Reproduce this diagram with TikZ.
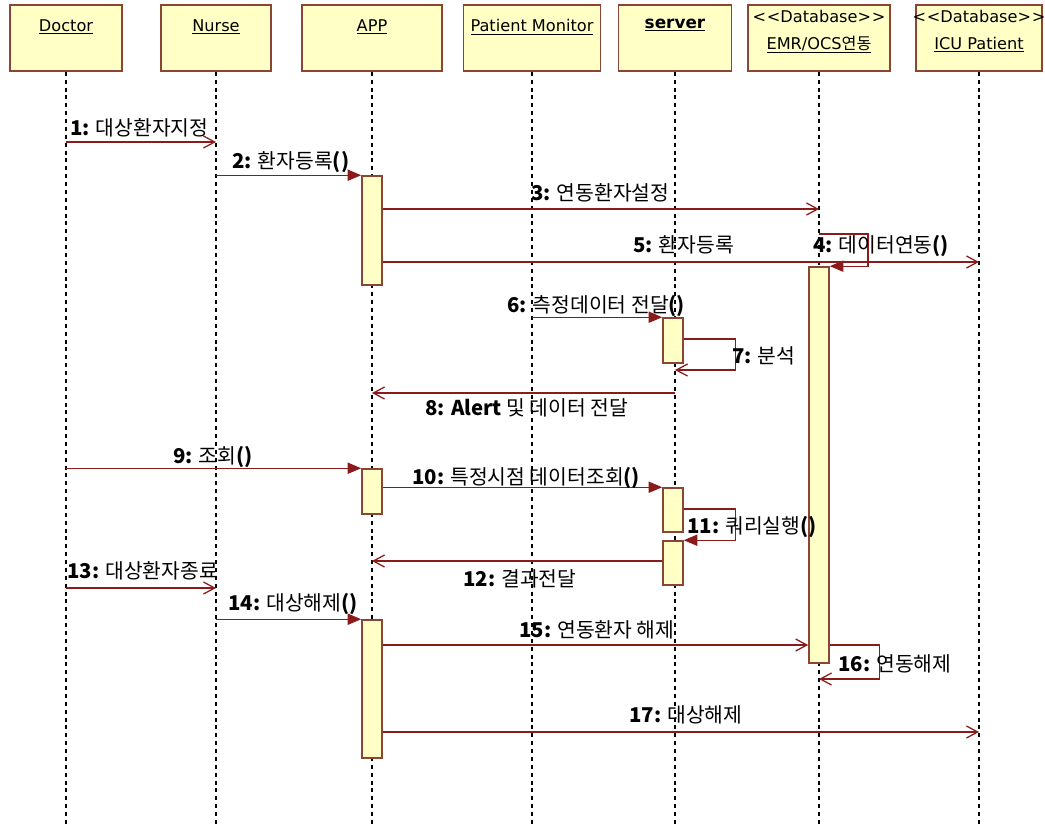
\documentclass[tikz,border=0pt]{standalone}
\usepackage{fontspec}
\setmainfont{Noto Sans CJK KR}
\newfontfamily\krfont{Noto Sans CJK KR}
\newfontfamily\titlefont{DejaVu Sans}
\usepackage{xcolor}
\usepackage{tikz}
\usetikzlibrary{arrows.meta, positioning, calc}

\definecolor{umlfill}{HTML}{FFFFC6}
\definecolor{umlline}{HTML}{8B4535}
\definecolor{msgred}{HTML}{8B1A1A}

\tikzset{
  head/.style={draw=umlline, line width=1.2pt, fill=umlfill, minimum height=1.65cm, inner sep=0pt},
  ttl/.style={inner sep=0pt, align=center, font=\titlefont\fontsize{11.5}{19}\selectfont},
  life/.style={black, line width=0.9pt, dash pattern=on 2.8pt off 2.8pt},
  act/.style={draw=umlline, line width=1.1pt, fill=umlfill, minimum width=0.5cm, inner sep=0pt},
  sync/.style={msgred, line width=0.9pt, -{Triangle[length=0.34cm, width=0.28cm]}},
  async/.style={msgred, line width=0.9pt, -{Straight Barb[length=0.28cm, width=0.3cm]}},
  msg/.style={anchor=base west, inner sep=0pt, font=\fontsize{14.5}{16}\selectfont}
}

\begin{document}
\begin{tikzpicture}[x=0.025cm, y=-0.025cm]
\useasboundingbox (0,0) rectangle (1045,824);
% Object heads
\node[head, minimum width=2.8cm] (doc) at (66,38) {};
\node[head, minimum width=2.75cm] (nur) at (216,38) {};
\node[head, minimum width=3.5cm] (app) at (372,38) {};
\node[head, minimum width=3.43cm] (pm) at (532,38) {};
\node[head, minimum width=2.83cm] (srv) at (675,38) {};
\node[head, minimum width=3.55cm] (emr) at (819,38) {};
\node[head, minimum width=3.15cm] (icu) at (979,38) {};
\node[ttl, below=0.38cm of doc.north] (docT) {\underline{Doctor}};
\node[ttl, below=0.38cm of nur.north] (nurT) {\underline{Nurse}};
\node[ttl, below=0.38cm of app.north] (appT) {\underline{APP}};
\node[ttl, below=0.38cm of pm.north] (pmT) {\underline{Patient Monitor}};
\node[ttl, below=0.36cm of srv.north, font=\titlefont\bfseries\fontsize{12}{19}\selectfont] (srvT) {\underline{server}};
\node[ttl, below=0.14cm of emr.north] (emrT) {<\kern0.5pt<Database>\kern0.5pt>\\\underline{EMR/OCS{\krfont 연동}}};
\node[ttl, below=0.14cm of icu.north] (icuT) {<\kern0.5pt<Database>\kern0.5pt>\\\underline{ICU Patient}};
% Lifelines
\foreach \p in {doc,nur,app,pm,srv,emr,icu}
  \draw[life] (\p.south) -- (\p.south |- 0,824);
% Activations
\node[act, minimum height=2.725cm] (a1) at (372,230.5) {};
\node[act, minimum height=1.125cm] (a2) at (372,491.5) {};
\node[act, minimum height=3.45cm] (a3) at (372,689) {};
\node[act, minimum height=1.125cm] (s1) at (673,340.5) {};
\node[act, minimum height=1.1cm] (s2) at (673,510) {};
\node[act, minimum height=1.1cm] (s3) at (673,563) {};
\node[act, minimum height=9.9cm] (e1) at (819,465) {};
% Messages
\draw[async] (doc |- 0,142) -- (nur |- 0,142);
\draw[sync] (nur |- a1.north) -- (a1.north west);
\draw[async] (a1.east |- 0,209) -- (emr |- 0,209);
\draw[sync] (emr |- 0,234) -- ++(49,0) |- (e1.north east);
\draw[async] (a1.east |- 0,262) -- (icu |- 0,262);
\draw[sync] (pm |- s1.north) -- (s1.north west);
\draw[async] (s1.east |- 0,339) -- ++(52,0) |- (srv |- 0,370);
\draw[async] (srv |- 0,393) -- (app |- 0,393);
\draw[sync] (doc |- a2.north) -- (a2.north west);
\draw[sync] (a2.east |- s2.north) -- (s2.north west);
\draw[sync] (s2.east |- 0,509) -- ++(52,0) |- (s3.north east);
\draw[async] (s3.west |- 0,561) -- (app |- 0,561);
\draw[async] (doc |- 0,588) -- (nur |- 0,588);
\draw[sync] (nur |- a3.north) -- (a3.north west);
\draw[async] (a3.east |- 0,645) -- (e1.west |- 0,645);
\draw[async] (e1.east |- 0,645) -- ++(50,0) |- (emr |- 0,679);
\draw[async] (a3.east |- 0,732) -- (icu |- 0,732);
% Message labels
\node[msg] (l1) at (70,135) {\textbf{1:} 대상환자지정};
\node[msg] (l2) at (232,168) {\textbf{2:} 환자등록\textbf{()}};
\node[msg] (l3) at (531,200) {\textbf{3:} 연동환자설정};
\node[msg] (l4) at (813,252) {\textbf{4:} 데이터연동\textbf{()}};
\node[msg] (l5) at (633,252) {\textbf{5:} 환자등록};
\node[msg] (l6) at (507,312) {\textbf{6:} 측정데이터 전달\textbf{()}};
\node[msg] (l7) at (732,363) {\textbf{7:} 분석};
\node[msg] (l8) at (425,415) {\textbf{8: Alert} 및 데이터 전달};
\node[msg] (l9) at (173,463) {\textbf{9:} 조회\textbf{()}};
\node[msg] (l10) at (412,484) {\textbf{10:} 특정시점 데이터조회\textbf{()}};
\node[msg] (l11) at (687,533) {\textbf{11:} 쿼리실행\textbf{()}};
\node[msg] (l12) at (463,586) {\textbf{12:} 결과전달};
\node[msg] (l13) at (67,578) {\textbf{13:} 대상환자종료};
\node[msg] (l14) at (228,610) {\textbf{14:} 대상해제\textbf{()}};
\node[msg] (l15) at (519,637) {\textbf{15:} 연동환자 해제};
\node[msg] (l16) at (838,671) {\textbf{16:} 연동해제};
\node[msg] (l17) at (629,722) {\textbf{17:} 대상해제};
\end{tikzpicture}
\end{document}
